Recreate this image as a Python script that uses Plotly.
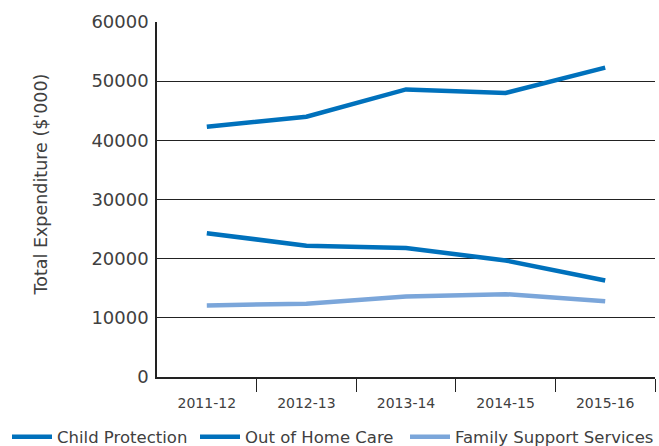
import plotly.graph_objects as go

years = ["2011-12", "2012-13", "2013-14", "2014-15", "2015-16"]
child_protection = [24300, 22200, 21800, 19700, 16300]
out_of_home_care = [42300, 44000, 48600, 48000, 52300]
family_support = [12100, 12400, 13600, 14000, 12800]

DARK_BLUE = "#0071BC"
LIGHT_BLUE = "#7BA6DA"
FONT = "DejaVu Sans"
TEXT = "#404040"
AXIS = "#222222"

W, H = 659, 446
ML, MR, MT, MB = 157, 4, 22, 69
PLOT_W, PLOT_H = W - ML - MR, H - MT - MB

# years are placed at integer positions so boundary ticks can sit between them
xpos = list(range(len(years)))
boundaries = [i + 0.5 for i in xpos]

# one single-entry legend per series, laid out in a row under the axis
series = [
    ("Child Protection", child_protection, DARK_BLUE, "legend", 7),
    ("Out of Home Care", out_of_home_care, DARK_BLUE, "legend2", 195),
    ("Family Support Services", family_support, LIGHT_BLUE, "legend3", 405),
]

fig = go.Figure()
legends = {}
for name, values, color, legend_id, left_px in series:
    fig.add_trace(go.Scatter(x=xpos, y=values, name=name, mode="lines",
                             legend=legend_id, line=dict(color=color, width=4.5)))
    legends[legend_id] = dict(
        orientation="h", xref="paper", x=(left_px - ML) / PLOT_W, xanchor="left",
        yref="container", y=(H - 437) / H, yanchor="middle",
        font=dict(size=16.5, color=TEXT), itemwidth=40,
        bgcolor="rgba(0,0,0,0)",
    )

fig.update_layout(
    width=W, height=H,
    margin=dict(l=ML, r=MR, t=MT, b=MB),
    plot_bgcolor="white", paper_bgcolor="white",
    font=dict(family=FONT, size=16, color=TEXT),
    showlegend=True,
    **legends,
    xaxis=dict(
        range=[-0.5, len(years) - 0.5],
        tickvals=xpos, ticktext=years, ticks="",
        minor=dict(tickvals=boundaries, ticks="outside", ticklen=13,
                   tickcolor=AXIS, tickwidth=1.3, showgrid=False),
        showline=True, linecolor=AXIS, linewidth=1.5,
        showgrid=False, zeroline=False, ticklabelstandoff=12,
        tickfont=dict(size=14, color=TEXT),
    ),
    yaxis=dict(
        range=[0, 60000], dtick=10000, tickformat="d",
        showline=True, linecolor=AXIS, linewidth=1.5,
        showgrid=True, gridcolor=AXIS, gridwidth=1.2,
        zeroline=False, ticks="", ticklabelstandoff=3,
        tickfont=dict(size=18, color=TEXT),
    ),
    annotations=[dict(
        text="Total Expenditure ($'000)", textangle=-90, showarrow=False,
        xref="paper", yref="paper", x=(41 - ML) / PLOT_W, y=(H - MB - 184.5) / PLOT_H,
        xanchor="center", yanchor="middle", font=dict(size=17.5, color=TEXT),
    )],
)

fig.write_html("out.html")
